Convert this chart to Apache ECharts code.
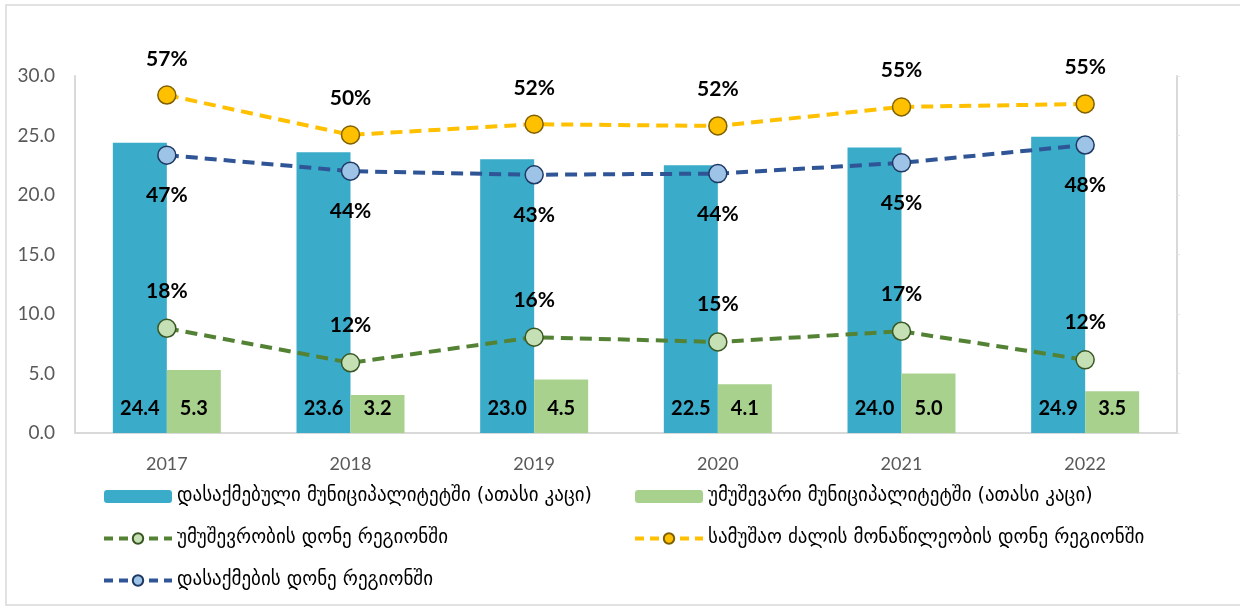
<!DOCTYPE html>
<html>
<head>
<meta charset="utf-8">
<script src="https://cdn.jsdelivr.net/npm/echarts@6/dist/echarts.min.js"></script>
<style>
  html, body { margin: 0; padding: 0; background: #fff; }
  #chart { width: 1240px; height: 608px; }
</style>
</head>
<body>
<div id="chart"></div>
<script>
// Years on the x axis
const years = ['2017', '2018', '2019', '2020', '2021', '2022'];

// Bars (thousand people)
const employedMunicipality = [24.4, 23.6, 23.0, 22.5, 24.0, 24.9];
const unemployedMunicipality = [5.3, 3.2, 4.5, 4.1, 5.0, 3.5];

// Rates in the region (%), drawn on a hidden 0-60 axis
const unemploymentRate = [17.6, 11.8, 16.1, 15.3, 17.1, 12.3];
const participationRate = [56.8, 50.1, 51.9, 51.6, 54.8, 55.3];
const employmentRate = [46.7, 44.0, 43.4, 43.6, 45.4, 48.4];

const yTicks = [0, 5, 10, 15, 20, 25, 30];

const names = {
  employed: 'დასაქმებული მუნიციპალიტეტში (ათასი კაცი)',
  unemployed: 'უმუშევარი მუნიციპალიტეტში (ათასი კაცი)',
  unemploymentRate: 'უმუშევრობის დონე რეგიონში',
  participation: 'სამუშაო ძალის მონაწილეობის დონე რეგიონში',
  employmentRate: 'დასაქმების დონე რეგიონში'
};

const numFont = 'Lato, "Liberation Sans", sans-serif';
const geoFont = '"DejaVu Sans", sans-serif';
const dash = [12, 7];

const barLabel = {
  show: true,
  position: 'insideBottom',
  distance: 14,
  fontFamily: numFont,
  fontWeight: 'bold',
  fontSize: 20,
  color: '#000',
  formatter: p => p.value.toFixed(1)
};

function rateSeries(name, data, color, fill, border, labelPos, dist) {
  return {
    name: name,
    type: 'line',
    yAxisIndex: 1,
    data: data,
    symbol: 'circle',
    symbolSize: 18,
    z: 5,
    lineStyle: { color: color, width: 4, type: dash },
    itemStyle: { color: fill, borderColor: border, borderWidth: 1.5 },
    label: {
      show: true,
      position: labelPos,
      distance: dist,
      fontFamily: numFont,
      fontWeight: 'bold',
      fontSize: 21,
      color: '#000',
      formatter: p => Math.round(p.value) + '%'
    }
  };
}

const legendText = { fontFamily: geoFont, fontSize: 19, color: '#000' };
const legendLine = { width: 4, type: [9, 6] };

const chart = echarts.init(document.getElementById('chart'));
chart.setOption({
  animation: false,
  backgroundColor: '#fff',
  graphic: [{
    type: 'rect',
    shape: { x: 6, y: 5, width: 1240, height: 600 },
    style: { fill: 'none', stroke: '#d9d9d9', lineWidth: 1.5 },
    silent: true
  }],
  grid: { left: 75, right: 63, top: 76, bottom: 175 },
  legend: [
    {
      left: 97, top: 482, orient: 'vertical', itemGap: 23,
      itemWidth: 68, itemHeight: 13, textStyle: legendText,
      lineStyle: legendLine,
      data: [names.employed, names.unemploymentRate, names.employmentRate]
    },
    {
      left: 628, top: 482, orient: 'vertical', itemGap: 23,
      itemWidth: 68, itemHeight: 13, textStyle: legendText,
      lineStyle: legendLine,
      data: [names.unemployed, names.participation]
    }
  ],
  xAxis: {
    type: 'category',
    data: years,
    axisLine: { lineStyle: { color: '#d9d9d9', width: 2 } },
    axisTick: { show: false },
    axisLabel: { fontFamily: numFont, fontSize: 18, color: '#595959', margin: 22 }
  },
  yAxis: [
    {
      type: 'value', min: 0, max: 30, interval: 5,
      splitLine: { show: false },
      axisLine: { show: true, lineStyle: { color: '#d9d9d9', width: 2 } },
      axisTick: { show: false },
      axisLabel: {
        fontFamily: numFont, fontSize: 19, color: '#595959', margin: 20,
        formatter: v => yTicks.includes(v) ? v.toFixed(1) : ''
      }
    },
    {
      type: 'value', min: 0, max: 60, interval: 10,
      splitLine: { show: false },
      axisLine: { show: true, lineStyle: { color: '#d9d9d9', width: 2 } },
      axisTick: { show: true, length: 3, lineStyle: { color: '#e6e6e6' } },
      axisLabel: { show: false }
    }
  ],
  series: [
    {
      name: names.employed, type: 'bar', data: employedMunicipality,
      barWidth: 54, barGap: '0%',
      itemStyle: { color: '#3aabc8' }, label: barLabel
    },
    {
      name: names.unemployed, type: 'bar', data: unemployedMunicipality,
      barWidth: 54,
      itemStyle: { color: '#a9d18e' }, label: barLabel
    },
    rateSeries(names.unemploymentRate, unemploymentRate, '#548235', '#c5e0b4', '#385723', 'top', 17),
    rateSeries(names.participation, participationRate, '#ffc000', '#ffc000', '#7f6000', 'top', 16),
    rateSeries(names.employmentRate, employmentRate, '#2f5597', '#9dc3e6', '#1f3864', 'bottom', 20)
  ]
});
</script>
</body>
</html>
